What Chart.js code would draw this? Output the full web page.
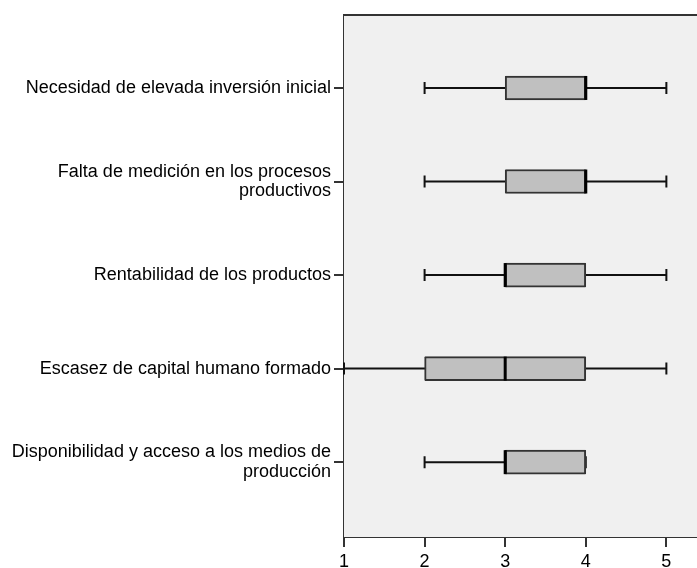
<!DOCTYPE html>
<html>
<head>
<meta charset="utf-8">
<script src="https://cdn.jsdelivr.net/npm/chart.js@4"></script>
<style>
  html, body { margin: 0; padding: 0; background: #fff; }
  #wrap { width: 697px; height: 568px; }
</style>
</head>
<body>
<div id="wrap"><canvas id="boxChart" width="697" height="568"></canvas></div>
<script>
// ------------------ Data ------------------
const categories = [
  "Necesidad de elevada inversión inicial",
  ["Falta de medición en los procesos", "productivos"],
  "Rentabilidad de los productos",
  "Escasez de capital humano formado",
  ["Disponibilidad y acceso a los medios de", "producción"]
];
const positions = [1, 2, 3, 4, 5];
const mins    = [2, 2, 2, 1, 2];
const q1s     = [3, 3, 3, 2, 3];
const medians = [4, 4, 3, 3, 3];
const q3s     = [4, 4, 4, 4, 4];
const maxs    = [5, 5, 5, 5, 4];
const xTicks  = [1, 2, 3, 4, 5];

const FONT = { family: "'Liberation Sans', Arial, sans-serif", size: 18, lineHeight: 1.1 };

// ------------------ Whiskers / median / frame ------------------
const boxPlotExtras = {
  id: "boxPlotExtras",
  beforeDatasetsDraw(chart) {
    const { ctx, chartArea: a, scales: { x, y } } = chart;
    ctx.save();
    ctx.fillStyle = "#f0f0f0";
    ctx.fillRect(a.left, a.top, a.right - a.left, a.bottom - a.top);
    ctx.strokeStyle = "#333";
    ctx.lineWidth = 2;
    ctx.beginPath();
    ctx.moveTo(a.left, a.top);
    ctx.lineTo(a.right, a.top);
    ctx.stroke();

    ctx.strokeStyle = "#111";
    ctx.lineWidth = 2;
    positions.forEach((p, i) => {
      const py = y.getPixelForValue(p);
      const xMin = x.getPixelForValue(mins[i]);
      const xMax = x.getPixelForValue(maxs[i]);
      ctx.beginPath();
      ctx.moveTo(xMin, py);
      ctx.lineTo(xMax, py);
      ctx.moveTo(xMin, py - 6);
      ctx.lineTo(xMin, py + 6);
      ctx.moveTo(xMax, py - 6);
      ctx.lineTo(xMax, py + 6);
      ctx.stroke();
    });
    ctx.restore();
  },
  afterDatasetsDraw(chart) {
    const { ctx, scales: { x, y } } = chart;
    ctx.save();
    ctx.strokeStyle = "#000";
    ctx.lineWidth = 3;
    positions.forEach((p, i) => {
      const py = y.getPixelForValue(p);
      const px = x.getPixelForValue(medians[i]);
      ctx.beginPath();
      ctx.moveTo(px, py - 12);
      ctx.lineTo(px, py + 12);
      ctx.stroke();
    });
    ctx.restore();
  }
};

// ------------------ Chart ------------------
new Chart(document.getElementById("boxChart"), {
  type: "bar",
  data: {
    datasets: [{
      data: positions.map((p, i) => ({ y: p, x: [q1s[i], q3s[i]] })),
      backgroundColor: "#c0c0c0",
      borderColor: "#333",
      borderWidth: 2,
      borderSkipped: false,
      borderRadius: 1,
      barThickness: 24
    }]
  },
  options: {
    indexAxis: "y",
    responsive: false,
    animation: false,
    layout: { padding: { top: 15, right: 0, left: 0, bottom: 0 } },
    plugins: { legend: { display: false }, tooltip: { enabled: false } },
    scales: {
      x: {
        type: "linear",
        min: 1,
        max: 5.38,
        afterBuildTicks: s => { s.ticks = xTicks.map(v => ({ value: v })); },
        afterFit: s => { s.height = 31; },
        ticks: { color: "#000", font: FONT, padding: 5, maxRotation: 0 },
        grid: { drawOnChartArea: false, drawTicks: true, tickLength: 10, color: "#333", lineWidth: 2 },
        border: { display: true, color: "#333", width: 2 }
      },
      y: {
        type: "linear",
        min: 0.22,
        max: 5.8,
        reverse: true,
        offset: false,
        afterBuildTicks: s => { s.ticks = positions.map(v => ({ value: v })); },
        afterFit: s => { s.width = 344; s.paddingTop = 0; s.paddingBottom = 0; },
        ticks: {
          color: "#000",
          font: FONT,
          padding: 3,
          callback: v => categories[positions.indexOf(v)]
        },
        grid: { offset: false, drawOnChartArea: false, drawTicks: true, tickLength: 10, color: "#333", lineWidth: 2 },
        border: { display: true, color: "#333", width: 2 }
      }
    }
  },
  plugins: [boxPlotExtras]
});
</script>
</body>
</html>
